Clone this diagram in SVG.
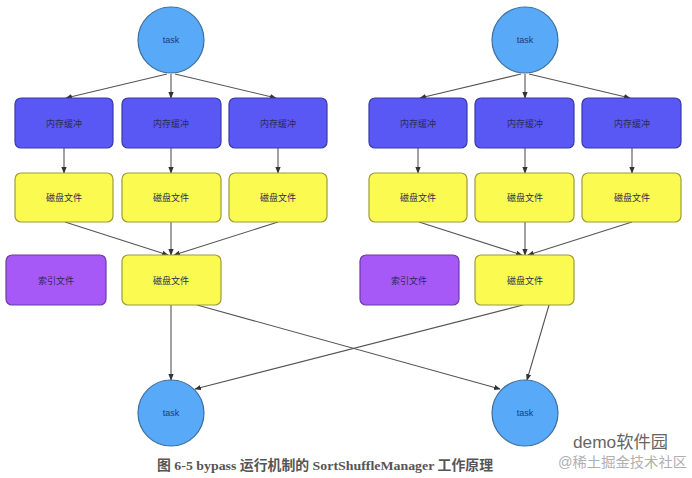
<svg xmlns="http://www.w3.org/2000/svg" width="692" height="478" viewBox="0 0 692 478">
<style>
.task{fill:#58a9f7;stroke:#3d6f9e;stroke-width:1.2}
.mem{fill:#5a58f5;stroke:#3b39a8;stroke-width:1.2}
.disk{fill:#fafa50;stroke:#9c9c3a;stroke-width:1.2}
.idx{fill:#a659f7;stroke:#6d3aa6;stroke-width:1.2}
.lbl{font-family:"Noto Sans CJK SC","Liberation Sans",sans-serif;font-size:9px;text-anchor:middle;dominant-baseline:central;fill:#2a2a55}
.tl{font-family:"Liberation Sans",sans-serif;font-size:9px;text-anchor:middle;dominant-baseline:central;fill:#1d3a70}
.edge{stroke:#555;stroke-width:1.1;fill:none;marker-end:url(#ah)}
.cap{font-family:"Liberation Serif","Noto Sans CJK SC",serif;font-size:13.5px;font-weight:bold;fill:#555}
.wm{font-family:"Liberation Sans","Noto Sans CJK SC",sans-serif}
</style>
<defs>
<marker id="ah" viewBox="0 0 10 10" refX="9" refY="5" markerWidth="6" markerHeight="6" orient="auto">
<path d="M0,1 L10,5 L0,9 z" fill="#333"/>
</marker>
</defs>
<rect width="692" height="478" fill="#fff"/>
<g id="connectors">
<line class="edge" x1="167" y1="74" x2="66" y2="98"/>
<line class="edge" x1="171" y1="74" x2="171" y2="98"/>
<line class="edge" x1="175" y1="74" x2="276" y2="98"/>
<line class="edge" x1="64" y1="148" x2="64" y2="173"/>
<line class="edge" x1="171" y1="148" x2="171" y2="173"/>
<line class="edge" x1="278" y1="148" x2="278" y2="173"/>
<line class="edge" x1="65" y1="222" x2="168" y2="255"/>
<line class="edge" x1="171" y1="222" x2="171" y2="255"/>
<line class="edge" x1="278" y1="222" x2="174" y2="255"/>
<line class="edge" x1="521" y1="74" x2="420" y2="98"/>
<line class="edge" x1="525" y1="74" x2="525" y2="98"/>
<line class="edge" x1="529" y1="74" x2="630" y2="98"/>
<line class="edge" x1="418" y1="148" x2="418" y2="173"/>
<line class="edge" x1="525" y1="148" x2="525" y2="173"/>
<line class="edge" x1="632" y1="148" x2="632" y2="173"/>
<line class="edge" x1="419" y1="222" x2="522" y2="255"/>
<line class="edge" x1="525" y1="222" x2="525" y2="255"/>
<line class="edge" x1="632" y1="222" x2="528" y2="255"/>
<line class="edge" x1="171" y1="305" x2="171" y2="380"/>
<line class="edge" x1="197" y1="305" x2="500" y2="389"/>
<line class="edge" x1="523" y1="305" x2="195" y2="389"/>
<line class="edge" x1="549" y1="305" x2="527" y2="380"/>
</g>
<g id="task-top-left"><circle class="task" cx="171" cy="40" r="33"/><text class="tl" x="171" y="40">task</text></g>
<g id="task-top-right"><circle class="task" cx="525" cy="40" r="33"/><text class="tl" x="525" y="40">task</text></g>
<g id="mem-l1"><rect class="mem" x="15" y="98" width="98" height="50" rx="6"/><text class="lbl" x="64" y="123">内存缓冲</text></g>
<g id="mem-l2"><rect class="mem" x="122" y="98" width="99" height="50" rx="6"/><text class="lbl" x="171" y="123">内存缓冲</text></g>
<g id="mem-l3"><rect class="mem" x="229" y="98" width="98" height="50" rx="6"/><text class="lbl" x="278" y="123">内存缓冲</text></g>
<g id="mem-r1"><rect class="mem" x="369" y="98" width="98" height="50" rx="6"/><text class="lbl" x="418" y="123">内存缓冲</text></g>
<g id="mem-r2"><rect class="mem" x="475" y="98" width="99" height="50" rx="6"/><text class="lbl" x="525" y="123">内存缓冲</text></g>
<g id="mem-r3"><rect class="mem" x="582" y="98" width="99" height="50" rx="6"/><text class="lbl" x="632" y="123">内存缓冲</text></g>
<g id="disk-l1"><rect class="disk" x="15" y="173" width="98" height="49" rx="6"/><text class="lbl" x="64" y="197">磁盘文件</text></g>
<g id="disk-l2"><rect class="disk" x="122" y="173" width="99" height="49" rx="6"/><text class="lbl" x="171" y="197">磁盘文件</text></g>
<g id="disk-l3"><rect class="disk" x="229" y="173" width="98" height="49" rx="6"/><text class="lbl" x="278" y="197">磁盘文件</text></g>
<g id="disk-r1"><rect class="disk" x="369" y="173" width="98" height="49" rx="6"/><text class="lbl" x="418" y="197">磁盘文件</text></g>
<g id="disk-r2"><rect class="disk" x="475" y="173" width="99" height="49" rx="6"/><text class="lbl" x="525" y="197">磁盘文件</text></g>
<g id="disk-r3"><rect class="disk" x="582" y="173" width="99" height="49" rx="6"/><text class="lbl" x="632" y="197">磁盘文件</text></g>
<g id="index-left"><rect class="idx" x="6" y="255" width="100" height="50" rx="6"/><text class="lbl" x="56" y="280">索引文件</text></g>
<g id="merged-left"><rect class="disk" x="122" y="255" width="99" height="50" rx="6"/><text class="lbl" x="171" y="280">磁盘文件</text></g>
<g id="index-right"><rect class="idx" x="360" y="255" width="99" height="50" rx="6"/><text class="lbl" x="409" y="280">索引文件</text></g>
<g id="merged-right"><rect class="disk" x="475" y="255" width="99" height="50" rx="6"/><text class="lbl" x="525" y="280">磁盘文件</text></g>
<g id="task-bottom-left"><circle class="task" cx="171" cy="413" r="33"/><text class="tl" x="171" y="413">task</text></g>
<g id="task-bottom-right"><circle class="task" cx="525" cy="413" r="33"/><text class="tl" x="525" y="413">task</text></g>
<text class="cap" x="157" y="470" textLength="336" lengthAdjust="spacingAndGlyphs">图 6-5 bypass 运行机制的 SortShuffleManager 工作原理</text>
<text class="wm" x="573" y="448" font-size="17" fill="#666" textLength="95" lengthAdjust="spacingAndGlyphs">demo软件园</text>
<text class="wm" x="558" y="467" font-size="14" fill="#b0b0b0" textLength="129" lengthAdjust="spacingAndGlyphs">@稀土掘金技术社区</text>
</svg>
